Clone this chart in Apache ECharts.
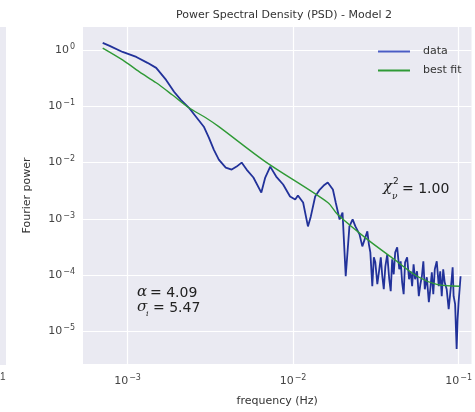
<!DOCTYPE html>
<html>
<head>
<meta charset="utf-8">
<title>PSD - Model 2</title>
<script src="https://cdn.jsdelivr.net/npm/echarts@6/dist/echarts.min.js"></script>
<style>
  html, body { margin: 0; padding: 0; background: #fff; }
  #chart { width: 475px; height: 412px; }
</style>
</head>
<body>
<div id="chart"></div>
<script>
// periodogram
const freq = [
  7.08e-4, 7.80e-4, 9.33e-4, 1.13e-3, 1.32e-3, 1.49e-3, 1.71e-3, 1.91e-3, 2.10e-3, 2.35e-3,
  2.62e-3, 2.89e-3, 3.10e-3, 3.32e-3, 3.56e-3, 3.92e-3, 4.26e-3, 4.56e-3, 4.89e-3, 5.24e-3,
  5.76e-3, 6.43e-3, 6.79e-3, 7.28e-3, 7.91e-3, 8.71e-3, 9.59e-3, 1.03e-2, 1.07e-2, 1.15e-2,
  1.23e-2, 1.28e-2, 1.36e-2, 1.45e-2, 1.53e-2, 1.62e-2, 1.74e-2, 1.81e-2, 1.91e-2, 1.99e-2,
  2.08e-2, 2.19e-2, 2.29e-2, 2.38e-2, 2.52e-2, 2.62e-2, 2.81e-2, 2.871e-2, 2.93e-2, 3.01e-2,
  3.076e-2, 3.14e-2, 3.228e-2, 3.32e-2, 3.388e-2, 3.46e-2, 3.532e-2, 3.61e-2, 3.707e-2, 3.81e-2,
  3.89e-2, 3.97e-2, 4.055e-2, 4.14e-2, 4.256e-2, 4.38e-2, 4.467e-2, 4.56e-2, 4.656e-2, 4.75e-2,
  4.887e-2, 5.02e-2, 5.129e-2, 5.24e-2, 5.346e-2, 5.46e-2, 5.61e-2, 5.75e-2, 5.878e-2, 6.00e-2,
  6.124e-2, 6.25e-2, 6.427e-2, 6.61e-2, 6.745e-2, 6.89e-2, 7.031e-2, 7.18e-2, 7.379e-2, 7.59e-2,
  7.744e-2, 7.91e-2, 8.072e-2, 8.24e-2, 8.472e-2, 8.71e-2, 8.892e-2, 9.08e-2, 9.204e-2, 9.33e-2,
  9.527e-2, 9.73e-2, 9.862e-2, 0.100, 0.1014, 0.1028
]
const power = [
  1.33, 1.18, 0.92, 0.75, 0.59, 0.48, 0.294, 0.181, 0.130, 0.094,
  0.0626, 0.0434, 0.0277, 0.0170, 0.0113, 8.17e-3, 7.52e-3, 8.49e-3, 0.0100, 7.52e-3,
  5.43e-3, 2.94e-3, 5.43e-3, 8.49e-3, 5.65e-3, 4.08e-3, 2.50e-3, 2.21e-3, 2.61e-3, 1.96e-3,
  7.36e-4, 1.11e-3, 2.50e-3, 3.33e-3, 3.92e-3, 4.43e-3, 3.33e-3, 1.96e-3, 9.80e-4, 1.30e-3,
  9.6e-5, 7.36e-4, 9.80e-4, 7.36e-4, 5.32e-4, 3.26e-4, 6.01e-4, 3.54e-4, 2.55e-4, 6.4e-5,
  2.08e-4, 1.70e-4, 6.93e-5, 1.28e-4, 2.08e-4, 9.6e-5, 5.65e-5, 1.44e-4, 2.35e-4, 8.5e-5,
  5.21e-5, 1.92e-4, 1.04e-4, 2.55e-4, 3.13e-4, 1.28e-4, 1.77e-4, 7.5e-5, 4.61e-5, 1.70e-4,
  2.08e-4, 8.5e-5, 1.18e-4, 6.4e-5, 1.57e-4, 8.5e-5, 1.18e-4, 4.25e-5, 6.93e-5, 9.6e-5,
  1.77e-4, 5.65e-5, 9.22e-5, 3.33e-5, 5.65e-5, 1.13e-4, 4.61e-5, 1.28e-4, 1.77e-4, 6.4e-5,
  1.18e-4, 4.25e-5, 1.28e-4, 7.5e-5, 5.65e-5, 2.5e-5, 4.61e-5, 8.5e-5, 1.39e-4, 4.25e-5,
  3.07e-5, 4.9e-6, 1.66e-5, 3.33e-5, 5.65e-5, 9.6e-5
]

// best fit curve
const fitFreq = [7.08e-4, 9.33e-4, 1.18e-3, 1.49e-3, 1.86e-3, 2.35e-3, 2.97e-3, 3.56e-3,
  6.79e-3, 1.62e-2, 1.86e-2, 2.81e-2, 4.08e-2, 5.61e-2, 7.38e-2, 0.1014]
const fitPower = [1.08, 0.665, 0.408, 0.261, 0.160, 0.094, 0.0625, 0.0434,
  0.0104, 1.96e-3, 1.20e-3, 4.34e-4, 1.92e-4, 9.6e-5, 6.9e-5, 6.4e-5]

const xTicks = [-3, -2, -1]
const yTicks = [0, -1, -2, -3, -4, -5]

const toLog = (xs, ys) => xs.map((x, i) => [Math.log10(x), Math.log10(ys[i])])

const bg = '#eaeaf2'
const textColor = '#444'

const supLabel = (v) => '{b|10}{s|' + (v < 0 ? '\u2212' + (-v) : v) + '}'
const labelRich = {
  b: { fontSize: 11, color: textColor, fontFamily: 'DejaVu Sans' },
  s: { fontSize: 8, color: textColor, fontFamily: 'DejaVu Sans', padding: [0, 0, 7, 1] },
}

const chart = echarts.init(document.getElementById('chart'))
chart.setOption({
  backgroundColor: '#fff',
  animation: false,
  title: {
    text: 'Power Spectral Density (PSD) - Model 2',
    left: 279,
    textAlign: 'center',
    top: 5,
    textStyle: { fontSize: 11, fontWeight: 'normal', color: '#333', fontFamily: 'DejaVu Sans' },
  },
  grid: { left: 83, top: 27, right: 0, bottom: 47, show: true, backgroundColor: bg, borderWidth: 0 },
  legend: {
    left: 373,
    top: 41,
    orient: 'vertical',
    itemWidth: 32,
    itemHeight: 2,
    itemGap: 8,
    icon: 'rect',
    textStyle: { fontSize: 11, color: '#333', fontFamily: 'DejaVu Sans', padding: [0, 0, 0, 8] },
    data: ['data', 'best fit'],
  },
  xAxis: {
    type: 'value',
    min: -3.269,
    max: -0.922,
    name: 'frequency (Hz)',
    nameLocation: 'middle',
    nameGap: 32,
    nameTextStyle: { fontSize: 11, color: '#333', fontFamily: 'DejaVu Sans' },
    axisLine: { show: false },
    axisTick: { show: false, customValues: xTicks },
    axisLabel: { customValues: xTicks, formatter: supLabel, rich: labelRich, margin: 10 },
    splitLine: { show: true, lineStyle: { color: '#fff', width: 1.2 } },
  },
  yAxis: {
    type: 'value',
    min: -5.575,
    max: 0.407,
    name: 'Fourier power',
    nameLocation: 'middle',
    nameGap: 50,
    nameTextStyle: { fontSize: 11, color: '#333', fontFamily: 'DejaVu Sans' },
    axisLine: { show: false },
    axisTick: { show: false, customValues: yTicks },
    axisLabel: { customValues: yTicks, formatter: supLabel, rich: labelRich, margin: 8 },
    splitLine: { show: true, lineStyle: { color: '#fff', width: 1.2 } },
  },
  series: [
    {
      name: 'data',
      type: 'line',
      data: toLog(freq, power),
      showSymbol: false,
      lineStyle: { color: '#22329a', width: 1.8 },
      itemStyle: { color: '#4a5cc4' },
      z: 3,
    },
    {
      name: 'best fit',
      type: 'line',
      data: toLog(fitFreq, fitPower),
      showSymbol: false,
      smooth: 0.3,
      lineStyle: { color: '#2f9a36', width: 1.4 },
      itemStyle: { color: '#2f9a36' },
      z: 4,
    },
  ],
  graphic: [
    // edge of the neighbouring panel
    { type: 'rect', left: 0, top: 27, shape: { width: 6, height: 338 }, style: { fill: bg }, silent: true },
    { type: 'text', left: 0, top: 372, style: { text: '1', fontSize: 10, fill: textColor } },
    // fit statistics
    { type: 'text', left: 383, top: 180, style: { text: '\u03c7', fontSize: 15, fontStyle: 'italic', fill: '#222', fontFamily: 'DejaVu Serif' } },
    { type: 'text', left: 393, top: 177, style: { text: '2', fontSize: 9, fill: '#222', fontFamily: 'DejaVu Sans' } },
    { type: 'text', left: 392, top: 192, style: { text: '\u03bd', fontSize: 9, fontStyle: 'italic', fill: '#222', fontFamily: 'DejaVu Serif' } },
    { type: 'text', left: 402, top: 182, style: { text: '= 1.00', fontSize: 14, fill: '#222', fontFamily: 'DejaVu Sans' } },
    { type: 'text', left: 137, top: 285, style: { text: '\u03b1', fontSize: 15, fontStyle: 'italic', fill: '#222', fontFamily: 'DejaVu Serif' } },
    { type: 'text', left: 150, top: 286, style: { text: '= 4.09', fontSize: 14, fill: '#222', fontFamily: 'DejaVu Sans' } },
    { type: 'text', left: 137, top: 300, style: { text: '\u03c3', fontSize: 15, fontStyle: 'italic', fill: '#222', fontFamily: 'DejaVu Serif' } },
    { type: 'text', left: 146, top: 310, style: { text: 'i', fontSize: 8, fontStyle: 'italic', fill: '#222', fontFamily: 'DejaVu Serif' } },
    { type: 'text', left: 153, top: 301, style: { text: '= 5.47', fontSize: 14, fill: '#222', fontFamily: 'DejaVu Sans' } },
  ],
})
</script>
</body>
</html>
